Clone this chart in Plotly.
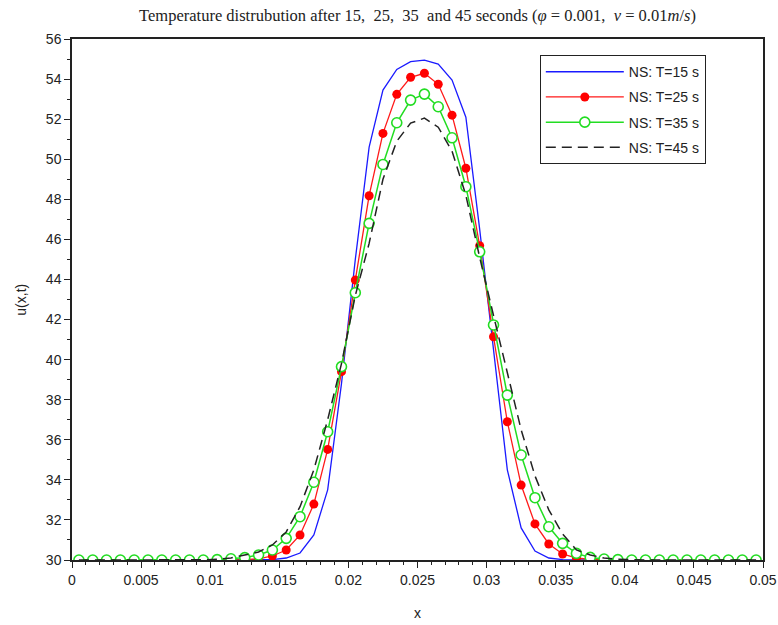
import plotly.graph_objects as go

x = [0.0005 + 0.001 * i for i in range(50)]

# values at cell centres 0.0005 ... 0.0495
def profile(pairs):
    d = {round(k, 4): v for k, v in pairs}
    return [d.get(round(xi, 4), 30.0) for xi in x]

u15 = profile([(0.0135, 30.0), (0.0145, 30.02), (0.0155, 30.1), (0.0165, 30.35), (0.0175, 31.25),
               (0.0185, 33.5), (0.0195, 38.8), (0.0205, 45.0), (0.0215, 50.6), (0.0225, 53.45),
               (0.0235, 54.48), (0.0245, 54.87), (0.0255, 54.95), (0.0265, 54.75), (0.0275, 53.95),
               (0.0285, 52.1), (0.0295, 46.5), (0.0305, 40.5), (0.0315, 34.5), (0.0325, 31.6),
               (0.0335, 30.45), (0.0345, 30.1), (0.0355, 30.02)])
u25 = profile([(0.0125, 30.02), (0.0135, 30.06), (0.0145, 30.2), (0.0155, 30.5), (0.0165, 31.25),
               (0.0175, 32.79), (0.0185, 35.52), (0.0195, 39.4), (0.0205, 43.97), (0.0215, 48.18),
               (0.0225, 51.29), (0.0235, 53.24), (0.0245, 54.09), (0.0255, 54.29), (0.0265, 53.74),
               (0.0275, 52.2), (0.0285, 49.55), (0.0295, 45.68), (0.0305, 41.14), (0.0315, 36.9),
               (0.0325, 33.74), (0.0335, 31.8), (0.0345, 30.8), (0.0355, 30.3), (0.0365, 30.1),
               (0.0375, 30.03)])
u35 = profile([(0.0105, 30.02), (0.0115, 30.06), (0.0125, 30.12), (0.0135, 30.25), (0.0145, 30.5),
               (0.0155, 31.08), (0.0165, 32.16), (0.0175, 33.88), (0.0185, 36.4), (0.0195, 39.65),
               (0.0205, 43.34), (0.0215, 46.8), (0.0225, 49.74), (0.0235, 51.82), (0.0245, 52.95),
               (0.0255, 53.25), (0.0265, 52.62), (0.0275, 51.07), (0.0285, 48.63), (0.0295, 45.38),
               (0.0305, 41.73), (0.0315, 38.23), (0.0325, 35.24), (0.0335, 33.11), (0.0345, 31.66),
               (0.0355, 30.83), (0.0365, 30.33), (0.0375, 30.13), (0.0385, 30.05), (0.0395, 30.02)])
u45 = profile([(0.0095, 30.01), (0.0105, 30.04), (0.0115, 30.1), (0.0125, 30.25), (0.0135, 30.4),
               (0.0145, 30.75), (0.0155, 31.4), (0.0165, 32.66), (0.0175, 34.5), (0.0185, 37.0),
               (0.0195, 39.8), (0.0205, 43.2), (0.0215, 45.8), (0.0225, 49.0), (0.0235, 50.9),
               (0.0245, 51.8), (0.0255, 52.05), (0.0265, 51.6), (0.0275, 50.4), (0.0285, 48.2),
               (0.0295, 45.1), (0.0305, 42.2), (0.0315, 39.3), (0.0325, 36.5), (0.0335, 34.2),
               (0.0345, 32.5), (0.0355, 31.3), (0.0365, 30.5), (0.0375, 30.25), (0.0385, 30.1),
               (0.0395, 30.04), (0.0405, 30.01)])

names = ["NS: T=15 s", "NS: T=25 s", "NS: T=35 s", "NS: T=45 s"]
xticks = [0, 0.005, 0.01, 0.015, 0.02, 0.025, 0.03, 0.035, 0.04, 0.045, 0.05]
xticklabels = ["0", "0.005", "0.01", "0.015", "0.02", "0.025", "0.03", "0.035", "0.04", "0.045", "0.05"]
yticks = list(range(30, 57, 2))

fig = go.Figure()
fig.add_trace(go.Scatter(x=x, y=u15, name=names[0], mode="lines", legendgroup="a",
                         line=dict(color="#1a1aff", width=1.3)))
fig.add_trace(go.Scatter(x=x, y=u25, name=names[1], mode="lines+markers", legendgroup="b",
                         line=dict(color="#ff1a1a", width=1.3),
                         marker=dict(color="#ff0000", size=9, symbol="circle")))
fig.add_trace(go.Scatter(x=x, y=u35, name=names[2], mode="lines+markers", legendgroup="c",
                         line=dict(color="#22dd22", width=1.5),
                         marker=dict(color="white", size=10, symbol="circle",
                                     line=dict(color="#22dd22", width=1.6))))
fig.add_trace(go.Scatter(x=x, y=u45, name=names[3], mode="lines", legendgroup="d",
                         line=dict(color="#222222", width=1.5, dash="10px,6px")))

fig.update_layout(
    width=778, height=625,
    margin=dict(l=72, r=15, t=39, b=65),
    paper_bgcolor="white", plot_bgcolor="white",
    title=dict(text="Temperature distrubution after 15,  25,  35  and 45 seconds (<i>φ</i> = 0.001,  <i>ν</i> = 0.01<i>m</i>/<i>s</i>)",
               x=0.5, xref="paper", xanchor="center", y=0.976, yanchor="middle",
               font=dict(family="Liberation Serif", size=16.5, color="#222")),
    font=dict(family="Liberation Sans", size=14, color="#222"),
    legend=dict(x=0.677, y=0.969, xanchor="left", yanchor="top",
                bordercolor="#222", borderwidth=1, bgcolor="white",
                font=dict(family="Liberation Sans", size=14, color="#222"),
                itemwidth=78, tracegroupgap=4, traceorder="grouped"),
    showlegend=True,
    annotations=[
        dict(text="x", xref="paper", yref="paper", x=0.5, y=-0.102, xanchor="center",
             yanchor="middle", showarrow=False, font=dict(size=14)),
        dict(text="u(x,t)", xref="paper", yref="paper", x=-0.075, y=0.5, xanchor="center",
             yanchor="middle", textangle=-90, showarrow=False, font=dict(size=14)),
    ],
)
fig.update_xaxes(range=[0, 0.05], tickvals=xticks, ticktext=xticklabels, automargin=False,
                 ticklabeloverflow="allow",
                 showgrid=False, zeroline=False, showline=True, linecolor="#222", linewidth=1.5,
                 mirror=True, ticks="outside", ticklen=6, tickcolor="#222",
                 minor=dict(dtick=0.001, ticks="outside", ticklen=3, tickcolor="#222", showgrid=False))
fig.update_yaxes(range=[30, 56], tickvals=yticks, automargin=False,
                 showgrid=False, zeroline=False, showline=True, linecolor="#222", linewidth=1.5,
                 mirror=True, ticks="outside", ticklen=6, tickcolor="#222",
                 minor=dict(dtick=1, ticks="outside", ticklen=3, tickcolor="#222", showgrid=False))

fig.write_html("out.html", config={"displayModeBar": False},
               post_script="document.body.style.margin='0';document.body.style.overflow='hidden';")
